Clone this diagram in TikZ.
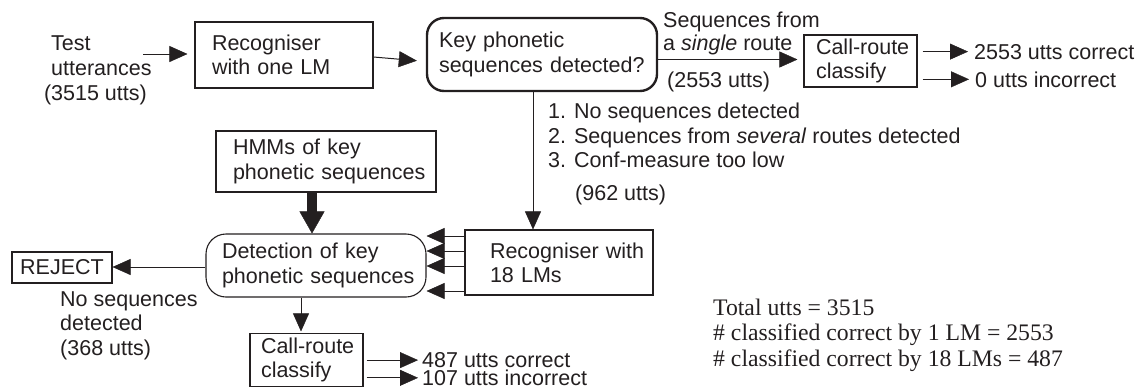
\documentclass[tikz,border=0pt]{standalone}
\usepackage{fontspec}
\setmainfont{Liberation Sans}
\newfontfamily\notefont{Liberation Serif}
\usetikzlibrary{arrows.meta}
\definecolor{ink}{HTML}{231F20}
\newcommand\txtsize{\fontsize{21.5}{24.3}\selectfont}
\begin{document}
\begin{tikzpicture}[x=1pt, y=-1pt,
  box/.style={draw=ink, line width=1.1pt, rectangle, inner ysep=0pt,
    align=left, font=\txtsize, text=ink},
  lbl/.style={inner sep=0pt, anchor=base west, align=left, font=\txtsize, text=ink},
  arr/.style={draw=ink, line width=1pt,
    -{Triangle[length=18pt,width=16pt,line width=0.4pt]}},
  fatarr/.style={draw=ink, line width=9.5pt,
    -{Triangle[length=22pt,width=25pt,line width=0.4pt]}},
]
\useasboundingbox (0,0) rectangle (1145,389);

% ---- boxes (each line kept whole; it may run into the right padding) ----
\node[box, minimum width=178pt, minimum height=66pt, text width=144pt,
  inner xsep=17pt] (rec1) at (284,55) {\mbox{Recogniser}\\\mbox{with one LM}};
\node[box, rounded corners=17pt, line width=2.4pt, minimum width=230pt,
  minimum height=73pt, text width=206pt, inner xsep=12pt] (key) at (542,54.5)
  {\mbox{Key phonetic}\\\mbox{sequences detected?}};
\node[box, minimum width=113pt, minimum height=52pt, text width=89pt,
  inner xsep=12pt] (cr1) at (860.5,61) {\mbox{Call-route}\\\mbox{classify}};
\node[box, minimum width=220pt, minimum height=61pt, text width=186pt,
  inner xsep=17pt] (hmm) at (326,161.5) {\mbox{HMMs of key}\\\mbox{phonetic sequences}};
\node[box, minimum width=188pt, minimum height=65pt, text width=138pt,
  inner xsep=25pt] (rec18) at (559,262.5) {\mbox{Recogniser with}\\\mbox{18 LMs}};
\node[box, rounded corners=20pt, minimum width=220pt, minimum height=63pt,
  text width=188pt, inner xsep=16pt] (det) at (316,265.5)
  {\mbox{Detection of key}\\\mbox{phonetic sequences}};
\node[box, align=center, minimum width=100pt, minimum height=31pt,
  inner xsep=0pt] (reject) at (62,267.5) {REJECT};
\node[box, minimum width=113pt, minimum height=53pt, text width=91pt,
  inner xsep=11pt] (cr2) at (306.5,360) {\mbox{Call-route}\\\mbox{classify}};

% ---- free labels (anchored at the baseline of their last line) ----
\node[lbl, font=\fontsize{21.5}{25}\selectfont] (test) at (51,100)
  {Test\\utterances\\\llap{(}3515 utts)};
\node[lbl, font=\fontsize{21.5}{23}\selectfont] (single) at (663,50)
  {Sequences from\\a \textit{single} route};
\node[lbl] (n2553) at (667,87) {(2553 utts)};
\node[lbl] (c1) at (974,59) {2553 utts correct};
\node[lbl] (i1) at (975,87) {0 utts incorrect};
\node[lbl, font=\fontsize{21.5}{24.5}\selectfont] (why) at (548,167.5)
  {1. No sequences detected\\2. Sequences from \textit{several} routes detected\\3. Conf-measure too low};
\node[lbl] (n962) at (575,200.5) {(962 utts)};
\node[lbl, font=\fontsize{21.5}{24.5}\selectfont] (nosq) at (60,355)
  {No sequences\\detected\\(368 utts)};
\node[lbl] (c2) at (422,367.5) {487 utts correct};
\node[lbl] (i2) at (422,385.5) {107 utts incorrect};
\node[lbl, font=\notefont\fontsize{23.7}{25.7}\selectfont] (tot) at (713,366.4)
  {Total utts = 3515\\\# classified correct by 1 LM = 2553\\\# classified correct by 18 LMs = 487};

% ---- connectors ----
\coordinate (testout) at (143,54);
\draw[arr, shorten >=7pt] (testout) -- (rec1.west |- testout);
\draw[arr, shorten >=9pt] ([yshift=-2pt]rec1.east) -- ([yshift=-7pt]key.west);
\draw[arr, shorten >=6pt] ([yshift=-5pt]key.east) -- ([yshift=1.5pt]cr1.west);
\draw[arr, shorten <=5pt, shorten >=6pt] (cr1.east |- c1.west) -- (c1.west);
\draw[arr, shorten <=5pt, shorten >=6pt] (cr1.east |- i1.west) -- (i1.west);
\draw[arr] ([xshift=-9pt]key.south) -- ([xshift=-9pt]key.south |- rec18.north);
\foreach \dy [count=\k] in {26.5, 11.5, -3.5, -28.5} {
  \coordinate (src\k) at ([yshift=\dy pt]rec18.west);
  \draw[arr] (src\k) -- (src\k -| det.east);
}
\draw[fatarr] ([xshift=-14pt]hmm.south) -- ([xshift=-14pt]hmm.south |- det.north);
\draw[arr] ([yshift=-1.5pt]det.west) -- ([yshift=0.5pt]reject.east);
\draw[arr, shorten >=1.5pt] ([xshift=-15pt]det.south) -- ([xshift=-15pt]det.south |- cr2.north);
\draw[arr, shorten <=3pt, shorten >=4pt] (cr2.east |- c2.west) -- (c2.west);
\draw[arr, shorten <=3pt, shorten >=4pt] (cr2.east |- i2.west) -- (i2.west);
\end{tikzpicture}
\end{document}
